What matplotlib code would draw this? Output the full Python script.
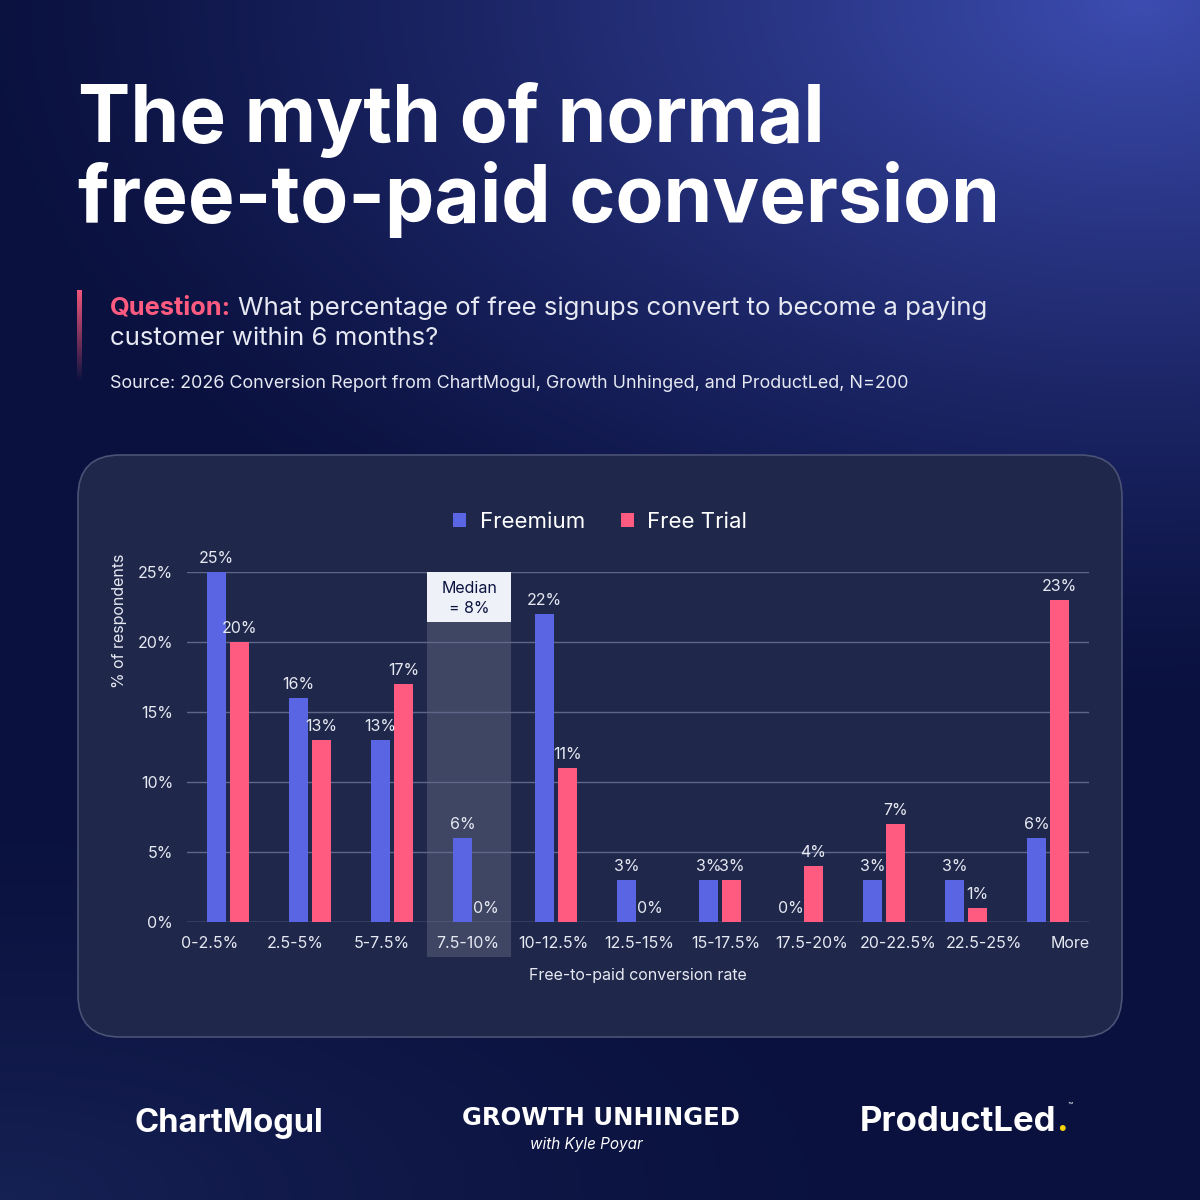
import matplotlib
matplotlib.use("Agg")
from matplotlib import pyplot as plt
from matplotlib.patches import FancyBboxPatch, Rectangle
import numpy as np

categories = ["0-2.5%", "2.5-5%", "5-7.5%", "7.5-10%", "10-12.5%", "12.5-15%",
              "15-17.5%", "17.5-20%", "20-22.5%", "22.5-25%", "More"]
freemium = [25, 16, 13, 6, 22, 3, 3, 0, 3, 3, 6]
free_trial = [20, 13, 17, 0, 11, 0, 3, 4, 7, 1, 23]
yticks = [0, 5, 10, 15, 20, 25]

BLUE = "#5965e2"
PINK = "#ff5a7f"
TXT = "#e6e8f2"
plt.rcParams['font.family'] = ['Inter', 'DejaVu Sans']

W = 1200.0
def fx(x):
    return x / W
def fy(y):
    return 1 - y / W

fig = plt.figure(figsize=(12, 12), dpi=100)

# background gradient
bg = fig.add_axes([0, 0, 1, 1], zorder=-10)
yy, xx = np.mgrid[0:1:300j, 0:1:300j]
base = np.array([10, 17, 62]) / 255.0
glow = np.array([60, 76, 176]) / 255.0
low = np.array([30, 44, 98]) / 255.0
g1 = np.clip(1 - np.hypot((xx - 0.95) / 1.0, (yy - 0.0) / 0.6), 0, 1) ** 1.3
g2 = np.clip(1 - np.hypot((xx - 0.0) / 0.8, (yy - 1.0) / 0.35), 0, 1) ** 1.5
img = base[None, None, :] * (1 - g1[..., None]) + glow[None, None, :] * g1[..., None]
img = img * (1 - g2[..., None] * 0.6) + low[None, None, :] * g2[..., None] * 0.6
bg.imshow(img, extent=[0, 1, 0, 1], aspect='auto', origin='upper')
bg.set_xlim(0, 1)
bg.set_ylim(0, 1)
bg.axis('off')

# title
fig.text(fx(78), fy(142), "The myth of normal", fontsize=56.5, fontweight='bold',
         color='white', va='baseline')
fig.text(fx(78), fy(222), "free-to-paid conversion", fontsize=56.5, fontweight='bold',
         color='white', va='baseline')

# question accent bar (fading gradient)
acc = fig.add_axes([fx(77), fy(382), 5 / W, 92 / W], zorder=-4)
grad = np.zeros((100, 1, 4))
grad[:, 0, :3] = np.array([255, 90, 127]) / 255.0
grad[:, 0, 3] = np.linspace(0.95, 0.0, 100)
acc.imshow(grad, extent=[0, 1, 0, 1], aspect='auto', origin='upper')
acc.axis('off')

q = fig.text(fx(110), fy(315), "Question:", fontsize=18.3, fontweight='bold', color=PINK, va='baseline')
fig.canvas.draw()
bb = q.get_window_extent(fig.canvas.get_renderer())
fig.text(bb.x1 / W + 7 / W, fy(315), "What percentage of free signups convert to become a paying",
         fontsize=18.6, color=TXT, va='baseline')
fig.text(fx(110), fy(345), "customer within 6 months?", fontsize=18.6, color=TXT, va='baseline')
fig.text(fx(110), fy(388), "Source: 2026 Conversion Report from ChartMogul, Growth Unhinged, and ProductLed, N=200",
         fontsize=12.9, color=TXT, va='baseline')

# panel
panel = FancyBboxPatch((fx(78), fy(1037)), (1122 - 78) / W, (1037 - 455) / W,
                       boxstyle="round,pad=0,rounding_size=0.035", transform=fig.transFigure,
                       facecolor="#1f284a", edgecolor="#4a5275", lw=1.2, zorder=-5)
fig.patches.append(panel)

# chart
ax = fig.add_axes([fx(187), fy(922), (1089 - 187) / W, (922 - 572) / W], zorder=1)
ax.set_facecolor('none')
x = np.arange(len(categories))
w = 0.23
off = 0.14

# median shading
ax.add_patch(Rectangle((2.43, -2.5), 1.02, 27.5, facecolor='white', alpha=0.14, lw=0,
                       clip_on=False, zorder=1))
ax.add_patch(Rectangle((2.43, 21.4), 1.02, 3.6, facecolor='#eef1f8', lw=0,
                       clip_on=False, zorder=4))
ax.text(2.94, 23.1, "Median\n= 8%", ha='center', va='center', fontsize=11.5,
        color='#0b1440', zorder=5, linespacing=1.35)

for t in yticks:
    ax.axhline(t, color='#5e6689' if t else '#8b91ad', lw=1, zorder=2)

ax.bar(x - off, freemium, w, color=BLUE, zorder=3, label="Freemium")
ax.bar(x + off, free_trial, w, color=PINK, zorder=3, label="Free Trial")
for xi, v in zip(x, freemium):
    ax.text(xi - off, v + 0.4, f"{v}%", ha='center', va='bottom', fontsize=11.5, color=TXT, zorder=6)
for xi, v in zip(x, free_trial):
    ax.text(xi + off, v + 0.4, f"{v}%", ha='center', va='bottom', fontsize=11.5, color=TXT, zorder=6)

ax.set_xlim(-0.5, 10.5)
ax.set_ylim(0, 25)
ax.set_yticks(yticks)
ax.set_yticklabels([f"{t}%" for t in yticks])
# category labels are spread a bit wider than the bar groups
ax.set_xticks(np.linspace(-0.23, 10.27, len(categories)))
ax.set_xticklabels(categories)
ax.tick_params(axis='both', length=0, labelsize=11.5, labelcolor=TXT)
ax.tick_params(axis='x', pad=10)
ax.tick_params(axis='y', pad=10)
for s in ax.spines.values():
    s.set_visible(False)
ax.set_xlabel("Free-to-paid conversion rate", fontsize=11.5, color=TXT, labelpad=12)
ax.set_ylabel("% of respondents", fontsize=11.5, color=TXT)
ax.yaxis.set_label_coords(-0.067, 0.86)

ax.legend(loc='center', bbox_to_anchor=(0.458, 1.143), ncol=2, frameon=False,
          fontsize=16, handlelength=0.6, handleheight=0.6, columnspacing=1.6,
          handletextpad=0.6, labelcolor='white')

# logos
fig.text(fx(135), fy(1132), "ChartMogul", fontsize=23.5, fontweight='bold', color='white', va='baseline')
fig.text(fx(601), fy(1125), "GROWTH UNHINGED", fontsize=17.5, fontweight='heavy', color='white',
         va='baseline', ha='center', family=['DejaVu Sans'])
fig.text(fx(586), fy(1149), "with Kyle Poyar", fontsize=11, style='italic', color='white',
         va='baseline', ha='center')
pl = fig.text(fx(860), fy(1131), "ProductLed", fontsize=25, fontweight='bold', color='white', va='baseline')
fig.canvas.draw()
pb = pl.get_window_extent(fig.canvas.get_renderer())
dot = fig.text(pb.x1 / W, fy(1131), ".", fontsize=25, fontweight='bold', color='#f5d300', va='baseline')
fig.canvas.draw()
db = dot.get_window_extent(fig.canvas.get_renderer())
fig.text(db.x1 / W, fy(1108), "™", fontsize=6, color='white', va='baseline')

fig.savefig("out.png", dpi=100)
